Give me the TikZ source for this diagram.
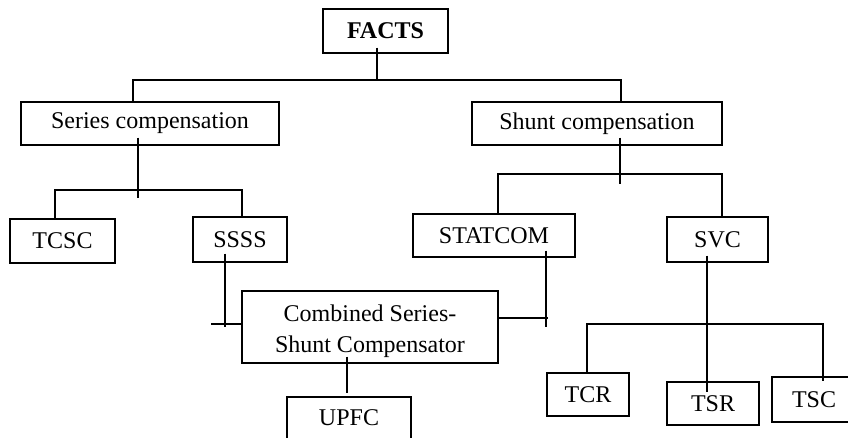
\documentclass[tikz,border=0pt]{standalone}
\usepackage{fontspec}
\setmainfont{Liberation Serif}
\tikzset{
  box/.style={draw, line width=1.3pt, inner sep=0pt, font=\fontsize{24}{31}\selectfont},
  link/.style={line width=1.3pt},
}
\begin{document}
\begin{tikzpicture}[x=1pt, y=-1pt]
\useasboundingbox (0,0) rectangle (848,437);
% boxes
\node[box, minimum width=125pt, minimum height=44pt, font=\fontsize{24}{31}\selectfont\bfseries] (facts) at (385.5,31) {FACTS};
\node[box, minimum width=258pt, minimum height=43pt] (series) at (150,123.5) {Series compensation};
\node[box, minimum width=250pt, minimum height=43pt] (shunt) at (597,123.5) {Shunt compensation};
\node[box, minimum width=105pt, minimum height=44pt] (tcsc) at (62.5,241) {TCSC};
\node[box, minimum width=94pt, minimum height=45pt] (ssss) at (240,239.5) {SSSS};
\node[box, minimum width=162pt, minimum height=43pt] (statcom) at (494,235.5) {STATCOM};
\node[box, minimum width=101pt, minimum height=45pt] (svc) at (717.5,239.5) {SVC};
\node[box, minimum width=256pt, minimum height=72pt, align=center] (comb) at (370,327) {\rule{0pt}{26pt}Combined Series-\\Shunt Compensator};
\node[box, minimum width=124pt, minimum height=42pt] (upfc) at (349,418) {UPFC};
\node[box, minimum width=82pt, minimum height=43pt] (tcr) at (588,394.5) {TCR};
\node[box, minimum width=92pt, minimum height=43pt] (tsr) at (713,403.5) {TSR};
\node[box, minimum width=84pt, minimum height=45pt] (tsc) at (814,399.5) {TSC};

% junctions
\coordinate (jtop) at (377,80);
\coordinate (tl) at (133,80);
\coordinate (tr) at (621,80);
\coordinate (send) at (138,198);
\coordinate (sl) at (55,190);
\coordinate (sr) at (242,190);
\coordinate (hend) at (620,184);
\coordinate (hl) at (498,174);
\coordinate (hr) at (722,174);
\coordinate (qend) at (225,327);
\coordinate (qtick) at (211,324);
\coordinate (pend) at (546,327);
\coordinate (ptick) at (548,318);
\coordinate (ustem) at (347,393);
\coordinate (vx) at (707,324);
\coordinate (vl) at (587,324);
\coordinate (vr) at (823,324);

% connectors
\draw[link] ([yshift=6pt]facts.south -| jtop) -- (jtop);
\draw[link] (series.north -| tl) -- (tl) -- (tr) -- (shunt.north -| tr);
\draw[link] ([yshift=8pt]series.south -| send) -- (send);
\draw[link] (tcsc.north -| sl) -- (sl) -- (sr) -- (ssss.north -| sr);
\draw[link] ([yshift=8pt]shunt.south -| hend) -- (hend);
\draw[link] (statcom.north -| hl) -- (hl) -- (hr) -- (svc.north -| hr);
\draw[link] ([yshift=9pt]ssss.south -| qend) -- (qend);
\draw[link] (qtick) -- (comb.west |- qtick);
\draw[link] ([yshift=7pt]statcom.south -| pend) -- (pend);
\draw[link] (comb.east |- ptick) -- (ptick);
\draw[link] ([yshift=7pt]comb.south -| ustem) -- (ustem);
\draw[link] ([yshift=7pt]svc.south -| vx) -- ([yshift=-11pt]tsr.north -| vx);
\draw[link] (tcr.north -| vl) -- (vl) -- (vr) -- ([yshift=-5pt]tsc.north -| vr);
\end{tikzpicture}
\end{document}
